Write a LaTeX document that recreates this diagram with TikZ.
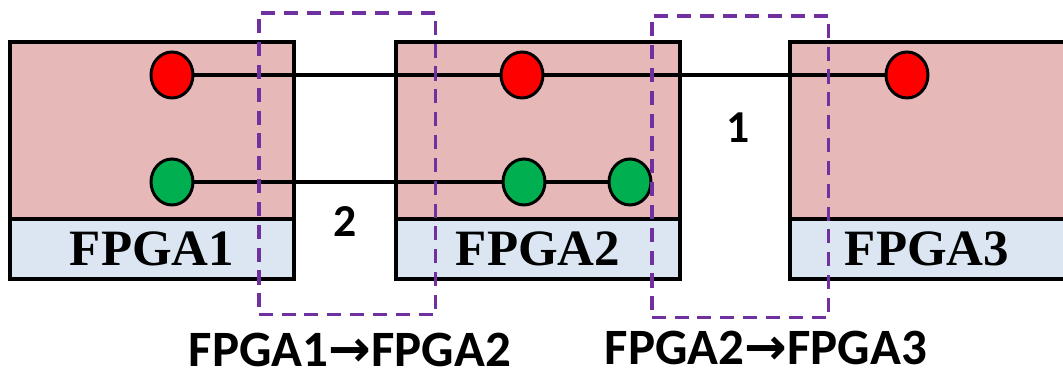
\documentclass[tikz,border=0pt]{standalone}
\usepackage{fontspec}
\setmainfont{Liberation Serif}
\setsansfont{Carlito}
\newfontfamily\arrowfont{DejaVu Sans}
\definecolor{ChipPink}{HTML}{E6B9B8}
\definecolor{TagBlue}{HTML}{DCE6F2}
\definecolor{HopPurple}{HTML}{7030A0}
\definecolor{PinRed}{HTML}{FF0000}
\definecolor{PinGreen}{HTML}{00B050}
\usetikzlibrary{positioning, shapes.geometric}

\begin{document}
\begin{tikzpicture}[x=0.02cm, y=-0.02cm,
  chip/.style={draw, line width=1.9pt, fill=ChipPink, outer sep=0pt, inner sep=0pt,
               minimum width=5.68cm, minimum height=3.54cm, anchor=north west},
  tag/.style={draw, line width=1.9pt, fill=TagBlue, outer sep=0pt, inner sep=0pt,
              minimum width=5.68cm, minimum height=1.2cm,
              font=\bfseries\fontsize{29}{29}\selectfont},
  pin/.style={ellipse, draw, line width=1.7pt, inner sep=0pt,
              minimum width=0.84cm, minimum height=0.92cm},
  wire/.style={line width=2pt},
  hop/.style={draw=HopPurple, line width=2pt, dash pattern=on 8pt off 5pt,
              minimum width=3.54cm, minimum height=6.04cm, anchor=north west},
  num/.style={font=\sffamily\bfseries\fontsize{26}{26}\selectfont},
  hoplabel/.style={font=\sffamily\bfseries\fontsize{29}{29}\selectfont,
                   inner sep=0pt, anchor=base},
]
  \clip (0,0) rectangle (1063,378);

  % FPGA boards
  \node[chip] (fpga1) at (10,42) {};
  \node[chip] (fpga2) at (396,42) {};
  \node[chip, minimum width=5.9cm] (fpga3) at (790,42) {};
  \node[tag, below=0pt of fpga1] (tag1) {FPGA1};
  \node[tag, below=0pt of fpga2] (tag2) {FPGA2};
  \node[tag, minimum width=5.9cm, below=0pt of fpga3] (tag3) {\hspace{-0.42cm}FPGA3};

  % pins
  \node[pin, fill=PinRed]   (r1) at (172,75) {};
  \node[pin, fill=PinRed]   (r2) at (522,75) {};
  \node[pin, fill=PinRed]   (r3) at (907,75) {};
  \node[pin, fill=PinGreen] (g1) at (172,182) {};
  \node[pin, fill=PinGreen] (g2) at (524,182) {};
  \node[pin, fill=PinGreen] (g3) at (630,182) {};

  \draw[wire] (r1) -- (r2) -- (r3);
  \draw[wire] (g1) -- (g2) -- (g3);

  % inter-FPGA hops
  \node[hop] (hop12) at (257,11) {};
  \node[hop] (hop23) at (650,14) {};
  \node[num] (n2) at (345,222) {2};
  \node[num] (n1) at (738,128) {1};

  \node[hoplabel] (lbl12) at (350,367) {FPGA1{\arrowfont\bfseries →}FPGA2};
  \node[hoplabel] (lbl23) at (766,365) {FPGA2{\arrowfont\bfseries →}FPGA3};
\end{tikzpicture}
\end{document}
